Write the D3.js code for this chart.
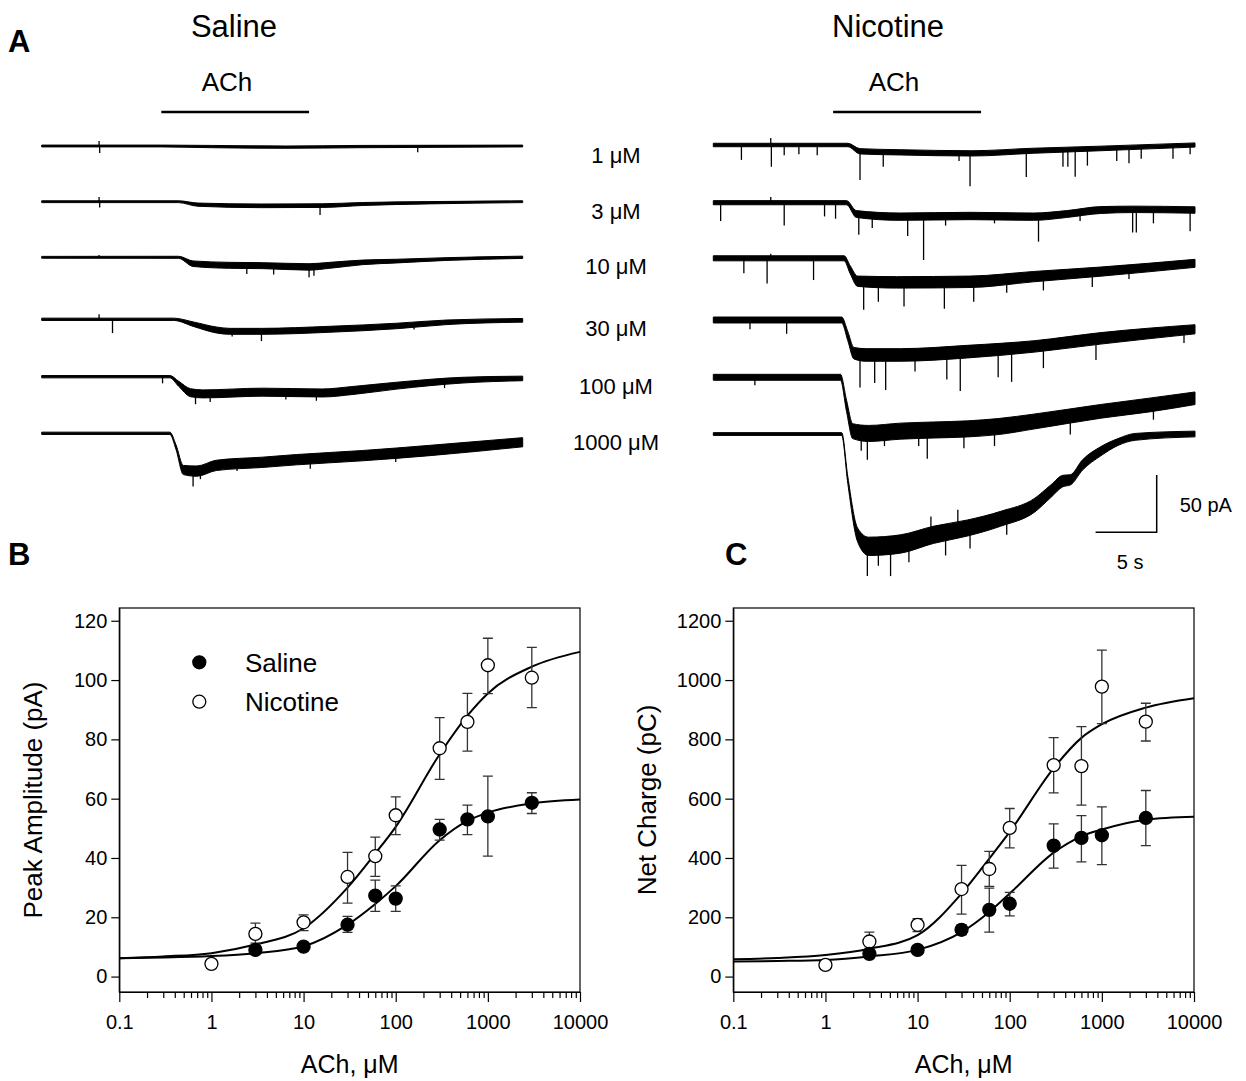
<!DOCTYPE html>
<html>
<head>
<meta charset="utf-8">
<script src="https://cdn.jsdelivr.net/npm/d3@7"></script>
<style>
  body { margin: 0; background: #fff; }
  text { font-family: "Liberation Sans", Arial, sans-serif; fill: #000; }
</style>
</head>
<body>
<svg id="fig" width="1246" height="1081"></svg>
<script>
// ---- traces (panel A): [time s, mean pA, noise half-width pA], spikes: [time s, peak pA]
const CONC_LABELS = ["1 \u03BCM", "3 \u03BCM", "10 \u03BCM", "30 \u03BCM", "100 \u03BCM", "1000 \u03BCM"];
const ACH_ON = [9.8, 21.9];
const TRACE_DUR = 39.4;

const SAL_1 = [[0,0,0.8],[9.8,0,0.8],[14,-0.5,1],[20,-1,1],[26,-0.5,1],[39.4,0,0.8]];
const SAL_3 = [[0,0,0.8],[11.2,0,0.8],[12.8,-2.6,1.4],[18,-3.6,1.6],[23,-3.4,1.6],[26.3,-2,1.3],[31.7,-0.9,1],[39.4,0,0.8]];
const SAL_10 = [[0,0,0.8],[11.2,0,0.9],[12.4,-5.6,2.4],[15.4,-7,2.6],[18.1,-7.3,2.6],[21.9,-8.4,2.8],[23.6,-7,2.6],[26.3,-4.4,2],[29.1,-3.3,1.6],[33.2,-1.5,1.2],[39.4,0,1]];
const SAL_30 = [[0,0,1],[10.8,0,1],[12.5,-4.5,2],[14.3,-9.3,2.6],[15.4,-10.5,2.6],[18,-10.5,2.6],[23.6,-8.7,2.6],[29.1,-5.8,2.4],[33.2,-2.6,2],[39.4,-0.9,1.6]];
const SAL_100 = [[0,0,1],[10.5,0,1],[11.2,-6,2.2],[12.2,-14,3.5],[13.2,-15,3.5],[18.1,-13.5,3.5],[23,-14.2,3.5],[25.5,-12,3.5],[29.1,-7.8,3],[34.5,-3,2.5],[39.4,-1.5,2]];
const SAL_1000 = [[0,0,1],[10.5,0,1],[11,-12,2],[11.6,-32,4],[12.7,-33,4.5],[14.3,-28,4.5],[18.1,-25.3,4.5],[20.9,-23,4.5],[26.3,-19.5,4.5],[31.8,-15,4.5],[39.4,-7.8,4]];

const SAL_1_SP = [[4.7,4.4],[4.75,-6],[30.8,-5.5]];
const SAL_3_SP = [[4.7,4],[4.75,-5],[22.8,-11.6]];
const SAL_10_SP = [[4.7,2],[16.8,-14.5],[19,-15],[21.9,-17.5],[22.3,-16]];
const SAL_30_SP = [[4.7,4.5],[5.8,-12],[15.6,-15],[18,-19],[30.5,-9]];
const SAL_100_SP = [[9.9,-5.8],[12.6,-24],[13.8,-22],[20,-20],[22.5,-21],[33,-10]];
const SAL_1000_SP = [[12.4,-46.5],[13,-40],[16,-33],[22,-31],[29,-25]];

const NIC_1 = [[0,0,1.5],[11,0,1.5],[12,-5.5,2.3],[15.3,-6.4,2.3],[21.1,-7.3,2.3],[26.2,-5,2.2],[31.7,-3,2],[39.4,0,1.8]];
const NIC_3 = [[0,0,1.8],[10.9,0,1.8],[11.7,-9.9,3],[15.3,-12.2,3.2],[21,-11.6,3.2],[26.2,-12.2,3.2],[28.9,-9.9,3],[31.7,-6.4,3],[34.4,-5.8,2.8],[39.4,-6.4,2.8]];
const NIC_10 = [[0,0,2.2],[10.7,0,2.2],[11.2,-10,3.5],[11.8,-20,4.5],[15,-21,5],[21,-20.5,5],[26.2,-16,4.5],[31.7,-11.6,4],[39.4,-4.4,3.5]];
const NIC_30 = [[0,0,2.6],[10.5,0,2.6],[11,-14,4],[11.5,-29,5],[12.5,-30.5,5.5],[15.3,-30.5,5.5],[20.8,-27.6,5.5],[26.3,-23,5],[31.7,-16,5],[39.4,-8.1,4]];
const NIC_100 = [[0,0,2.6],[10.4,0,2.6],[10.9,-25,5],[11.4,-47,6.5],[12.7,-49,7],[15.3,-47,7],[18,-46,7],[20.8,-45,7],[23.3,-43,7],[26.3,-38.5,6.5],[31.7,-29.7,6],[35.8,-24,6],[39.4,-18.3,5.5]];
const NIC_1000 = [[0,0,1.2],[10.5,0,1.2],[11,-40,3],[11.8,-88,6],[12.7,-98,8],[15.3,-96,8],[18,-88,7.5],[20.8,-82,7],[23.5,-74,6.5],[26.3,-62,6],[27.6,-50,5.5],[28.6,-41,5],[29.2,-40,4.5],[30.2,-27,4.5],[31.7,-15,4],[33.1,-7,3],[34.5,-2.5,3],[39.4,0,2.5]];

const NIC_1_SP = [[2.3,-13],[4.7,6],[4.75,-19],[5.8,-9],[7,-8],[8.5,-9],[12,-30.5],[13.9,-19],[20.1,-14],[21,-36],[25.6,-28],[28.6,-19],[29,-19],[29.6,-27.6],[30.6,-18],[33,-14],[34,-16],[35,-12],[37.6,-12],[39,-8]];
const NIC_3_SP = [[0.6,-16],[4.7,5],[5.8,-20],[9.1,-12],[10,-14],[11.9,-28],[13,-22],[15.9,-29],[17.2,-50],[19,-20],[23,-18],[26.6,-34],[30,-16],[34.3,-26],[34.6,-26],[36,-18],[39,-25]];
const NIC_10_SP = [[2.5,-13],[4.4,-22],[4.7,4],[8.2,-19],[12.3,-45],[13.5,-38],[15.6,-42],[18.9,-44],[21.3,-38],[24,-30],[27,-28],[31,-25],[34,-18]];
const NIC_30_SP = [[3,-8],[6,-12],[12,-59],[13.2,-55],[14.1,-61],[16.5,-45],[19.1,-52],[20.2,-62],[23.3,-50],[24.4,-54],[27,-42],[31.3,-35],[38.5,-20]];
const NIC_100_SP = [[3.4,-7],[12.1,-64],[12.6,-72],[14,-60],[16.8,-60],[17.5,-71],[20.5,-62],[23,-60],[29.2,-50],[36,-37]];
const NIC_1000_SP = [[12.6,-124],[13.5,-115],[14.5,-124],[16,-112],[17.8,-72],[19,-106],[20,-66],[21,-100],[24,-88]];

// ---- dose-response (panels B, C)
const SAL_X = [3, 10, 30, 60, 100, 300, 600, 1000, 3000];
const NIC_X = [1, 3, 10, 30, 60, 100, 300, 600, 1000, 3000];
const DECADES = [0.1, 1, 10, 100, 1000, 10000];

const B_SAL = [9.0, 10.1, 17.5, 27.3, 26.3, 49.6, 53, 54, 58.6];
const B_SAL_HI = [10, 11, 20.3, 32.5, 30.6, 53, 57.8, 67.6, 62];
const B_SAL_LO = [8, 9.2, 14.9, 22, 22, 46, 47.9, 40.6, 55];
const B_NIC = [4.3, 14.4, 18.3, 33.6, 40.6, 54.4, 77, 85.9, 105, 100.8];
const B_NIC_HI = [4.3, 18, 20.8, 41.9, 47, 60.6, 87.3, 95.5, 114.1, 111];
const B_NIC_LO = [4.3, 11.3, 15.5, 24.8, 33.8, 47.9, 66.5, 76, 95.4, 90.7];

const C_SAL = [76.6, 90, 157.7, 225, 245.6, 441.7, 467.6, 476.6, 535];
const C_SAL_HI = [85, 100, 175, 298.6, 284, 515, 543, 572, 627.6];
const C_SAL_LO = [68, 80, 141, 150, 205, 366, 386.5, 377.5, 441.7];
const C_NIC = [39.4, 118.3, 174.6, 295.2, 362.8, 501.4, 713.2, 709.9, 978, 859.7];
const C_NIC_HI = [39.4, 150, 195, 375, 422.5, 566.8, 805.6, 842.8, 1100.8, 921.7];
const C_NIC_LO = [39.4, 95, 152, 210.7, 304, 433.8, 619.7, 578, 853, 794.4];

// fitted curves
const FIT_X = [0.1, 0.3, 1, 3, 10, 30, 60, 100, 300, 600, 1000, 3000, 10000];
const B_SAL_FIT = [6.2, 6.4, 6.9, 7.9, 10.2, 17.5, 24.5, 30.5, 46, 52.5, 55.3, 58.4, 59.7];
const B_NIC_FIT = [6.2, 6.8, 7.9, 10.8, 16.3, 30, 41.5, 50.5, 75, 88, 95.5, 104.5, 109.5];
const C_SAL_FIT = [50.7, 52.5, 56, 68, 90, 150, 218, 280, 418, 473, 496, 529, 538.6];
const C_NIC_FIT = [58.6, 63, 73, 94, 140, 280, 398, 488, 703, 805, 851, 907, 938.6];

const svg = d3.select("#fig");
svg.append("rect").attr("width", 1246).attr("height", 1081).attr("fill", "#fff");

const PX_PER_PA = 57.3 / 50;

function meanAt(pts, t) {
  for (let i = 1; i < pts.length; i++) {
    if (t <= pts[i][0]) {
      const a = pts[i - 1], b = pts[i];
      const f = (t - a[0]) / (b[0] - a[0]);
      return a[1] + f * (b[1] - a[1]);
    }
  }
  return pts[pts.length - 1][1];
}

function drawTrace(g, xT, base, pts, spikes) {
  const y = d3.scaleLinear().domain([0, -50]).range([base, base + 50 * PX_PER_PA]);
  const area = d3.area()
    .x(d => xT(d[0]))
    .y0(d => y(d[1] - d[2]))
    .y1(d => y(d[1] + d[2]))
    .curve(d3.curveMonotoneX);
  g.append("path")
    .attr("d", area(pts))
    .attr("fill", "#000")
    .attr("stroke", "#000")
    .attr("stroke-width", 1)
    .attr("stroke-linejoin", "round");
  g.append("g")
    .selectAll("line")
    .data(spikes)
    .join("line")
    .attr("x1", d => xT(d[0]))
    .attr("x2", d => xT(d[0]))
    .attr("y1", d => y(meanAt(pts, d[0])))
    .attr("y2", d => y(d[1]))
    .attr("stroke", "#000")
    .attr("stroke-width", 1.3);
}

function PanelA() {
  const g = svg.append("g");
  const xSal = d3.scaleLinear().domain([0, TRACE_DUR]).range([41.7, 522.7]);
  const xNic = d3.scaleLinear().domain([0, TRACE_DUR]).range([713.3, 1195]);
  const salBase = [146, 201.7, 257.3, 319.3, 376.7, 433.3];
  const nicBase = [145, 202.7, 258.3, 320, 377.3, 434];
  const sal = [SAL_1, SAL_3, SAL_10, SAL_30, SAL_100, SAL_1000];
  const salSp = [SAL_1_SP, SAL_3_SP, SAL_10_SP, SAL_30_SP, SAL_100_SP, SAL_1000_SP];
  const nic = [NIC_1, NIC_3, NIC_10, NIC_30, NIC_100, NIC_1000];
  const nicSp = [NIC_1_SP, NIC_3_SP, NIC_10_SP, NIC_30_SP, NIC_100_SP, NIC_1000_SP];

  sal.forEach((p, i) => drawTrace(g, xSal, salBase[i], p, salSp[i]));
  nic.forEach((p, i) => drawTrace(g, xNic, nicBase[i], p, nicSp[i]));

  // concentration labels
  g.append("g").selectAll("text")
    .data(CONC_LABELS)
    .join("text")
    .attr("x", 616)
    .attr("y", (d, i) => salBase[i] + 17)
    .attr("text-anchor", "middle")
    .style("font-size", "22px")
    .text(d => d);

  // ACh bars
  [[xSal, 227], [xNic, 894]].forEach(([xT, lx]) => {
    g.append("line")
      .attr("x1", xT(ACH_ON[0])).attr("x2", xT(ACH_ON[1]))
      .attr("y1", 112).attr("y2", 112)
      .attr("stroke", "#000").attr("stroke-width", 2.5);
    g.append("text")
      .attr("x", lx).attr("y", 91)
      .attr("text-anchor", "middle")
      .style("font-size", "26px")
      .text("ACh");
  });

  g.append("text").attr("x", 234).attr("y", 37).attr("text-anchor", "middle")
    .style("font-size", "31px").text("Saline");
  g.append("text").attr("x", 888).attr("y", 37).attr("text-anchor", "middle")
    .style("font-size", "31px").text("Nicotine");

  // scale bar: 5 s, 50 pA
  const sx = 1156.7, sy = 532.3;
  const w = xNic(5) - xNic(0), h = 50 * PX_PER_PA;
  g.append("path")
    .attr("d", `M${sx - w},${sy}H${sx}V${sy - h}`)
    .attr("fill", "none").attr("stroke", "#000").attr("stroke-width", 1.5);
  g.append("text").attr("x", sx + 23).attr("y", sy - h / 2 + 8)
    .style("font-size", "20px").text("50 pA");
  g.append("text").attr("x", sx - w / 2 + 4).attr("y", 569).attr("text-anchor", "middle")
    .style("font-size", "20px").text("5 s");
}

function DosePanel(opt) {
  const g = svg.append("g");
  const x = d3.scaleLog().domain([0.1, 10000]).range(opt.xr);
  const y = d3.scaleLinear().domain(opt.yd).range([992, 608]);

  const minor = [];
  DECADES.slice(0, -1).forEach(d => { for (let m = 2; m < 10; m++) minor.push(d * m); });

  g.append("rect")
    .attr("x", opt.xr[0]).attr("y", 608)
    .attr("width", opt.xr[1] - opt.xr[0]).attr("height", 384)
    .attr("fill", "none").attr("stroke", "#000").attr("stroke-width", 1.2);

  const xMaj = g.append("g").attr("transform", "translate(0,992)")
    .call(d3.axisBottom(x).tickValues(DECADES).tickSize(10).tickSizeOuter(0).tickPadding(13)
      .tickFormat(d => d < 1 ? "0.1" : String(d)));
  const xMin = g.append("g").attr("transform", "translate(0,992)")
    .call(d3.axisBottom(x).tickValues(minor).tickSize(6).tickSizeOuter(0).tickFormat(""));
  const yAx = g.append("g").attr("transform", `translate(${opt.xr[0]},0)`)
    .call(d3.axisLeft(y).tickValues(opt.yticks).tickSize(8).tickSizeOuter(0).tickPadding(4)
      .tickFormat(d3.format("d")));

  [xMaj, xMin, yAx].forEach(a => {
    a.selectAll("text").style("font-size", "20px").style("font-family", "'Liberation Sans', Arial, sans-serif");
    a.selectAll("line").attr("stroke-width", 1.2);
    a.select(".domain").attr("stroke-width", 1.2);
  });

  g.append("text")
    .attr("x", (opt.xr[0] + opt.xr[1]) / 2).attr("y", 1073)
    .attr("text-anchor", "middle").style("font-size", "25px")
    .text("ACh, \u03BCM");
  g.append("text")
    .attr("transform", `translate(${opt.ylx},800) rotate(-90)`)
    .attr("text-anchor", "middle").style("font-size", "26px")
    .text(opt.ylabel);

  const line = d3.line().x(d => x(d[0])).y(d => y(d[1])).curve(d3.curveMonotoneX);
  [opt.salFit, opt.nicFit].forEach(fit => {
    g.append("path")
      .attr("d", line(FIT_X.map((v, i) => [v, fit[i]])))
      .attr("fill", "none").attr("stroke", "#000").attr("stroke-width", 2);
  });

  const series = [
    { xs: NIC_X, v: opt.nic, hi: opt.nicHi, lo: opt.nicLo, fill: "#fff" },
    { xs: SAL_X, v: opt.sal, hi: opt.salHi, lo: opt.salLo, fill: "#000" }
  ];
  series.forEach(s => {
    const rows = s.xs.map((xv, i) => ({ x: xv, v: s.v[i], hi: s.hi[i], lo: s.lo[i] }));
    const eb = g.append("g").attr("stroke", "#333").attr("stroke-width", 1.3);
    eb.selectAll("path")
      .data(rows.filter(d => d.hi > d.lo))
      .join("path")
      .attr("fill", "none")
      .attr("d", d => {
        const cx = x(d.x), y1 = y(d.hi), y0 = y(d.lo);
        return `M${cx},${y0}V${y1}M${cx - 5},${y1}H${cx + 5}M${cx - 5},${y0}H${cx + 5}`;
      });
  });
  series.forEach(s => {
    g.append("g").selectAll("circle")
      .data(s.xs.map((xv, i) => [xv, s.v[i]]))
      .join("circle")
      .attr("cx", d => x(d[0])).attr("cy", d => y(d[1]))
      .attr("r", 6.5)
      .attr("fill", s.fill).attr("stroke", "#000").attr("stroke-width", 1.3);
  });
  return g;
}

PanelA();

const gB = DosePanel({
  xr: [119.3, 580], yd: [-5.2, 124.3], yticks: [0, 20, 40, 60, 80, 100, 120],
  ylx: 42, ylabel: "Peak Amplitude (pA)",
  sal: B_SAL, salHi: B_SAL_HI, salLo: B_SAL_LO,
  nic: B_NIC, nicHi: B_NIC_HI, nicLo: B_NIC_LO,
  salFit: B_SAL_FIT, nicFit: B_NIC_FIT
});
DosePanel({
  xr: [733.3, 1194], yd: [-52, 1243], yticks: [0, 200, 400, 600, 800, 1000, 1200],
  ylx: 656, ylabel: "Net Charge (pC)",
  sal: C_SAL, salHi: C_SAL_HI, salLo: C_SAL_LO,
  nic: C_NIC, nicHi: C_NIC_HI, nicLo: C_NIC_LO,
  salFit: C_SAL_FIT, nicFit: C_NIC_FIT
});

// legend in B
const leg = gB.append("g");
[["Saline", "#000", 662.3], ["Nicotine", "#fff", 701.7]].forEach(([t, f, cy]) => {
  leg.append("circle").attr("cx", 199.3).attr("cy", cy).attr("r", 6.5)
    .attr("fill", f).attr("stroke", "#000").attr("stroke-width", 1.3);
  leg.append("text").attr("x", 245).attr("y", cy + 9.5).style("font-size", "26px").text(t);
});

// panel letters
[["A", 8, 52], ["B", 8, 565], ["C", 725, 565]].forEach(([t, x, y]) => {
  svg.append("text").attr("x", x).attr("y", y)
    .style("font-size", "31px").style("font-weight", "bold").text(t);
});
</script>
</body>
</html>
